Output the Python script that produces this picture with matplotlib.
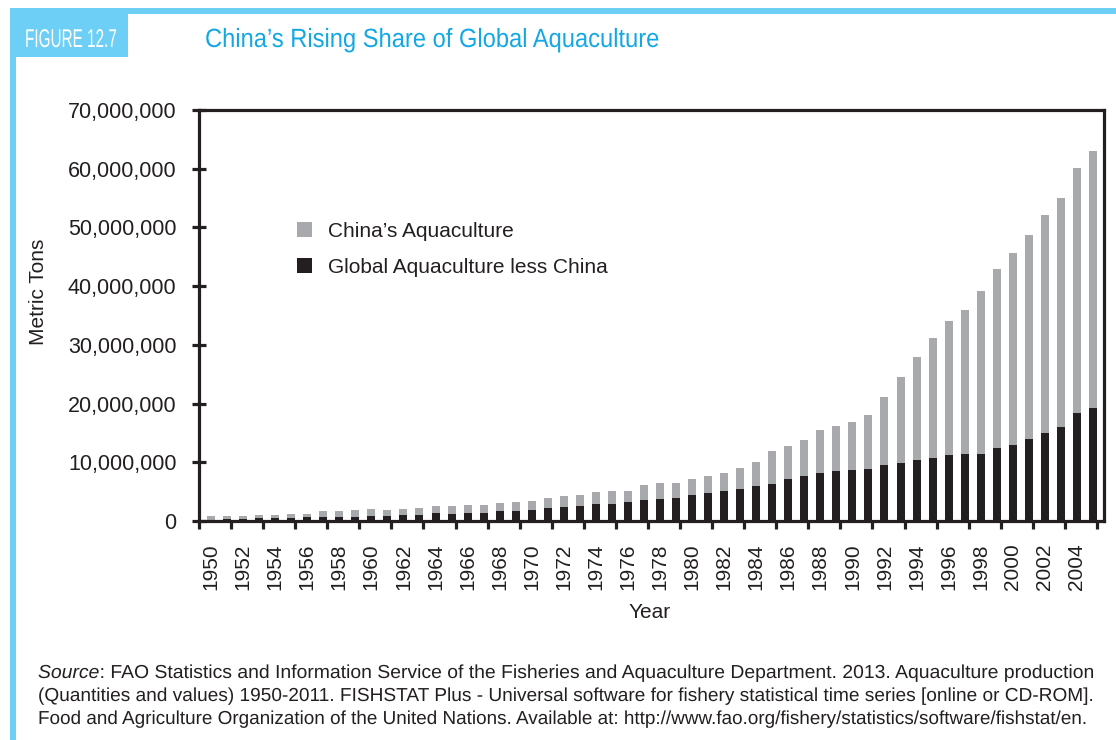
import matplotlib
matplotlib.use("Agg")
import matplotlib.pyplot as plt
from matplotlib.patches import Rectangle, Patch
from matplotlib.ticker import FuncFormatter
from matplotlib.patheffects import AbstractPathEffect
from matplotlib.transforms import Affine2D
import numpy as np

# ---------------- data (million metric tons) ----------------
years = list(range(1950, 2006))
global_less_china_mt = [
    0.25, 0.3, 0.3, 0.5, 0.5, 0.5, 0.7, 0.7, 0.7, 0.7,
    0.85, 0.85, 1.0, 1.0, 1.35, 1.2, 1.35, 1.4, 1.7, 1.7,
    1.9, 2.2, 2.4, 2.55, 2.9, 2.9, 3.25, 3.6, 3.75, 3.9,
    4.45, 4.8, 5.1, 5.45, 5.95, 6.3, 7.15, 7.7, 8.2, 8.55,
    8.7, 8.9, 9.55, 9.9, 10.4, 10.75, 11.25, 11.45, 11.45, 12.45,
    12.95, 14.0, 15.0, 16.0, 18.4, 19.3,
]
china_mt = [
    0.55, 0.55, 0.55, 0.5, 0.5, 0.7, 0.5, 1.0, 1.0, 1.2,
    1.2, 1.05, 1.05, 1.2, 1.2, 1.35, 1.35, 1.35, 1.35, 1.55,
    1.5, 1.7, 1.85, 1.9, 2.05, 2.2, 1.9, 2.55, 2.75, 2.6,
    2.7, 2.9, 3.1, 3.6, 4.05, 5.65, 5.65, 6.1, 7.3, 7.65,
    8.2, 9.2, 11.65, 14.7, 17.5, 20.35, 22.75, 24.45, 27.65, 30.45,
    32.65, 34.7, 37.1, 39.0, 41.8, 43.8,
]
y_ticks = [0, 10_000_000, 20_000_000, 30_000_000, 40_000_000,
           50_000_000, 60_000_000, 70_000_000]
x_label_years = list(range(1950, 2005, 2))
series_labels = ["China\u2019s Aquaculture", "Global Aquaculture less China"]

source_lines = [
    ("Source", ": FAO Statistics and Information Service of the Fisheries and "
               "Aquaculture Department. 2013. Aquaculture production"),
    ("", "(Quantities and values) 1950-2011. FISHSTAT Plus - Universal software "
         "for fishery statistical time series [online or CD-ROM]."),
    ("", "Food and Agriculture Organization of the United Nations. Available at: "
         "http://www.fao.org/fishery/statistics/software/fishstat/en."),
]

# ---------------- style ----------------
BLUE_FRAME = "#6dcff6"
BLUE_TITLE = "#13a8e4"
GRAY = "#a7a9ac"
BLACK = "#231f20"
TEXT = "#231f20"

plt.rcParams["font.family"] = ["Liberation Sans", "DejaVu Sans"]

W, H = 1116, 740
fig = plt.figure(figsize=(W / 100, H / 100), dpi=100)
fig.patch.set_facecolor("white")


def fx(px):
    return px / W


def fy(py):
    return 1 - py / H


renderer = fig.canvas.get_renderer()


def width_px(t):
    return t.get_window_extent(renderer).width


class HSqueeze(AbstractPathEffect):
    """Draw text glyphs scaled horizontally about a fixed x (display px)."""

    def __init__(self, sx, x0):
        super().__init__()
        self.sx = sx
        self.x0 = x0

    def draw_path(self, renderer, gc, tpath, affine, rgbFace=None):
        squeeze = (Affine2D().translate(-self.x0, 0).scale(self.sx, 1)
                   .translate(self.x0, 0))
        renderer.draw_path(gc, tpath, affine + squeeze, rgbFace)


def condensed_text(xpx, ypx, s, size, target_w, **kw):
    t = fig.text(fx(xpx), fy(ypx), s, fontsize=size, va="baseline", ha="left", **kw)
    sx = target_w / width_px(t)
    t.set_path_effects([HSqueeze(sx, xpx)])
    return t


# frame decorations
fig.patches.append(Rectangle((fx(10), fy(14)), (W - 10) / W, 6 / H,
                             transform=fig.transFigure, color=BLUE_FRAME, lw=0))
fig.patches.append(Rectangle((fx(10), 0), 6 / W, fy(8),
                             transform=fig.transFigure, color=BLUE_FRAME, lw=0))
fig.patches.append(Rectangle((fx(10), fy(57)), 118 / W, 49 / H,
                             transform=fig.transFigure, color=BLUE_FRAME, lw=0))

condensed_text(25, 47, "FIGURE 12.7", 18.5, 92, color="white")
condensed_text(205, 47, "China\u2019s Rising Share of Global Aquaculture", 19, 455,
               color=BLUE_TITLE)

# ---------------- axes ----------------
ax = fig.add_axes([fx(199), fy(521), (1104 - 199) / W, (521 - 110) / H])
other = np.array(global_less_china_mt) * 1e6
china = np.array(china_mt) * 1e6
ax.bar(years, other, width=0.5, color=BLACK, lw=0, label=series_labels[1])
ax.bar(years, china, bottom=other, width=0.5, color=GRAY, lw=0,
       label=series_labels[0])

ax.set_xlim(1949.25, 2005.69)
ax.set_ylim(0, 70_000_000)

for s in ax.spines.values():
    s.set_linewidth(2.3)
    s.set_color(BLACK)

ax.set_yticks(y_ticks)
ax.yaxis.set_major_formatter(FuncFormatter(lambda v, p: f"{int(v):,}"))
ax.tick_params(axis="y", direction="inout", length=9.5, width=2.3, pad=11.5,
               labelsize=15.5, color=BLACK, labelcolor=TEXT)

ax.set_xticks(x_label_years)
ax.set_xticklabels([str(y) for y in x_label_years], rotation=90)
ax.set_xticks(np.arange(1949.25, 2006, 2), minor=True)
ax.tick_params(axis="x", which="major", length=0, pad=16, labelsize=15,
               labelcolor=TEXT)
ax.tick_params(axis="x", which="minor", direction="out", length=6, width=2.3,
               color=BLACK)

fig.text(fx(38), fy(292), "Metric Tons", rotation=90, fontsize=15,
         ha="center", va="center", color=TEXT)
fig.text(fx(650), fy(613), "Year", fontsize=15, ha="center", va="center",
         color=TEXT)

handles = [Patch(facecolor=GRAY, edgecolor="none"),
           Patch(facecolor=BLACK, edgecolor="none")]
ax.legend(handles, series_labels, loc="upper left",
          bbox_to_anchor=(fx(297), fy(222)), bbox_transform=fig.transFigure,
          frameon=False, fontsize=15, handlelength=0.72, handleheight=0.72,
          handletextpad=0.75, labelspacing=0.8, borderpad=0, borderaxespad=0,
          labelcolor=TEXT)

# ---------------- source note (justified lines) ----------------
X0 = 38
baselines = [678, 701, 724]
targets = [1055, 1055, 1047]
fs = 12.0
texts = []
first_i = fig.text(fx(X0), fy(baselines[0]), source_lines[0][0], fontsize=fs,
                   style="italic", va="baseline", ha="left", color=TEXT)
for (ital, rest), b in zip(source_lines, baselines):
    texts.append(fig.text(fx(X0), fy(b), rest, fontsize=fs, va="baseline",
                          ha="left", color=TEXT))
widths = [width_px(t) for t in texts]
widths[0] += width_px(first_i)
fs *= min(tg / w for tg, w in zip(targets, widths))
first_i.set_fontsize(fs)
for t in texts:
    t.set_fontsize(fs)
w_ital = width_px(first_i)
texts[0].set_x(fx(X0 + w_ital))
widths = [width_px(t) for t in texts]
widths[0] += w_ital
for i, t in enumerate(texts):
    sx = targets[i] / widths[i]
    t.set_path_effects([HSqueeze(sx, X0)])
    if i == 0:
        first_i.set_path_effects([HSqueeze(sx, X0)])

fig.savefig("out.png", dpi=100)
